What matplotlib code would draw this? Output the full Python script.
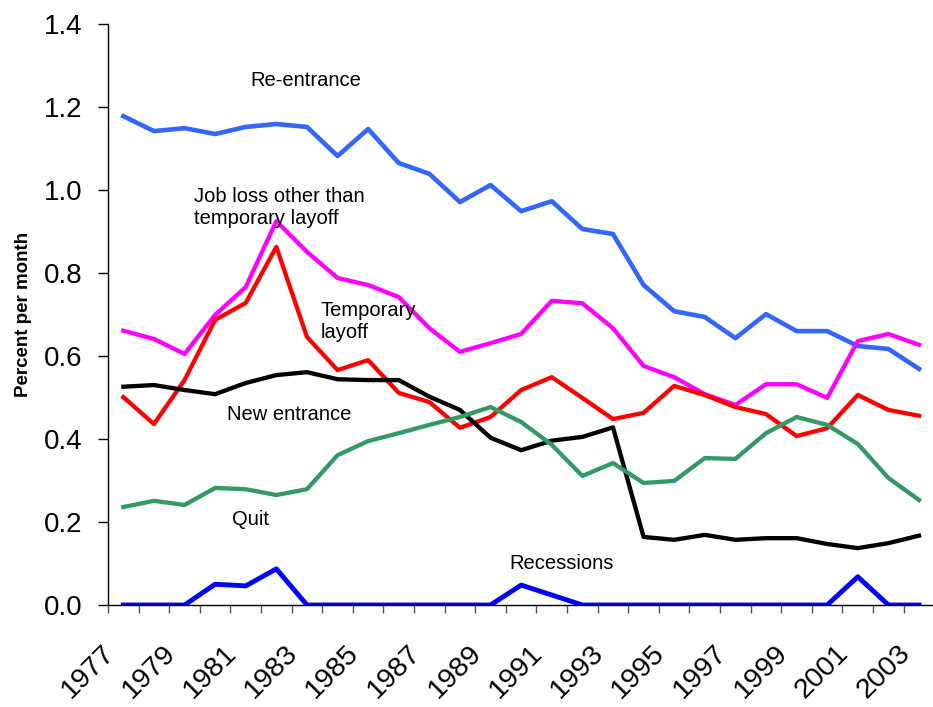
import numpy as np
import matplotlib.pyplot as plt
from matplotlib.transforms import ScaledTranslation

plt.rcParams['font.family'] = ['Liberation Sans', 'DejaVu Sans']

years = list(range(1977, 2004))
tick_years = years[::2]

re_entrance = [1.178, 1.142, 1.149, 1.135, 1.152, 1.159, 1.152, 1.082, 1.147, 1.065,
               1.039, 0.971, 1.012, 0.949, 0.973, 0.906, 0.894, 0.771, 0.708, 0.694,
               0.643, 0.701, 0.660, 0.660, 0.624, 0.617, 0.569]
job_loss = [0.661, 0.641, 0.605, 0.699, 0.766, 0.925, 0.851, 0.788, 0.771, 0.742,
            0.667, 0.610, 0.631, 0.653, 0.733, 0.727, 0.667, 0.576, 0.549, 0.508,
            0.482, 0.532, 0.532, 0.499, 0.636, 0.653, 0.627]
temp_layoff = [0.501, 0.436, 0.542, 0.687, 0.728, 0.863, 0.646, 0.566, 0.590, 0.511,
               0.489, 0.427, 0.453, 0.518, 0.549, 0.499, 0.448, 0.463, 0.528, 0.506,
               0.477, 0.460, 0.407, 0.426, 0.506, 0.470, 0.456]
new_entrance = [0.526, 0.530, 0.518, 0.508, 0.535, 0.554, 0.561, 0.544, 0.542, 0.542,
                0.502, 0.470, 0.403, 0.373, 0.396, 0.405, 0.428, 0.164, 0.157, 0.169,
                0.157, 0.161, 0.161, 0.147, 0.137, 0.149, 0.167]
quit_rate = [0.236, 0.251, 0.241, 0.282, 0.279, 0.265, 0.279, 0.361, 0.395, 0.414,
             0.434, 0.453, 0.477, 0.441, 0.386, 0.311, 0.342, 0.294, 0.299, 0.354,
             0.352, 0.414, 0.453, 0.434, 0.388, 0.306, 0.253]
recessions = [0, 0, 0, 0.050, 0.046, 0.087, 0, 0, 0, 0,
              0, 0, 0, 0.048, 0.024, 0, 0, 0, 0, 0,
              0, 0, 0, 0, 0.068, 0, 0]

fig = plt.figure(figsize=(9.33, 7.07), dpi=100)
ax = fig.add_axes([0.1158, 0.1443, 0.8856, 0.8217])

x = np.arange(len(years))
ax.plot(x, re_entrance, color='#3366FF', lw=3.3)
ax.plot(x, job_loss, color='#FF00FF', lw=3.1)
ax.plot(x, temp_layoff, color='#FF0000', lw=3.1)
ax.plot(x, new_entrance, color='black', lw=3.1)
ax.plot(x, quit_rate, color='#339966', lw=3.1)
ax.plot(x, recessions, color='#0000FF', lw=3.5)

# series labels
fs = 14.5
ax.text(4.15, 1.263, 'Re-entrance', fontsize=fs, va='center')
ax.text(2.32, 0.959, 'Job loss other than\ntemporary layoff', fontsize=fs, va='center')
ax.text(6.44, 0.682, 'Temporary\nlayoff', fontsize=fs, va='center')
ax.text(3.40, 0.458, 'New entrance', fontsize=fs, va='center')
ax.text(3.56, 0.207, 'Quit', fontsize=fs, va='center')
ax.text(12.61, 0.099, 'Recessions', fontsize=fs, va='center')

ax.set_xlim(-0.5, len(years) - 0.5)
ax.set_ylim(0, 1.4)
ax.set_yticks(np.arange(0, 1.41, 0.2))
ax.set_yticklabels([f'{v:.1f}' for v in np.arange(0, 1.41, 0.2)])
ax.tick_params(axis='y', labelsize=20, length=7.2, width=1, pad=11.5)

ax.set_xticks(x[::2])
ax.set_xticklabels([str(y) for y in tick_years], rotation=45, ha='right',
                   va='center', rotation_mode='anchor')
ax.set_xticks(np.arange(-0.5, len(years), 1), minor=True)
ax.tick_params(axis='x', which='major', labelsize=20.5, length=0, pad=32)
ax.tick_params(axis='x', which='minor', length=5.8, width=1, color='#555555')
for lab in ax.get_xticklabels():
    lab.set_transform(lab.get_transform() + ScaledTranslation(-13 / 100, 0, fig.dpi_scale_trans))

for s in ['top', 'right']:
    ax.spines[s].set_visible(False)
ax.spines['left'].set_linewidth(1)
ax.spines['bottom'].set_linewidth(1)

ax.set_ylabel('Percent per month', fontsize=13.5, fontweight='bold')
ax.yaxis.set_label_coords(-0.092, 0.5)

fig.savefig('out.png', dpi=100)
